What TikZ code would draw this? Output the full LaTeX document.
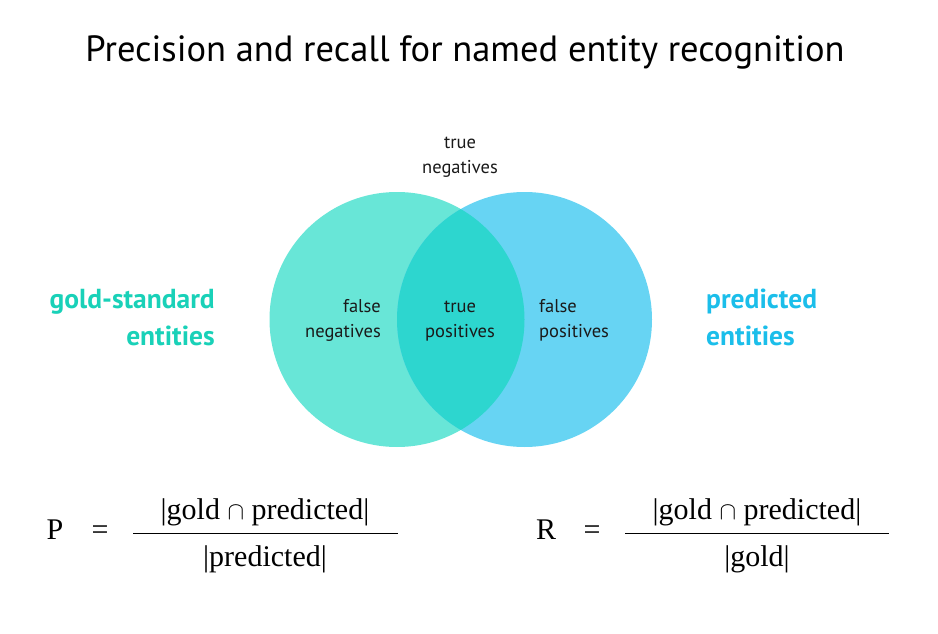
\documentclass[tikz,border=0pt]{standalone}
\usepackage{fontspec}
\setmainfont{Liberation Serif}
\setsansfont{PT Sans}
\usetikzlibrary{positioning}
\definecolor{goldc}{HTML}{68E6D7}
\definecolor{predc}{HTML}{67D4F3}
\definecolor{bothc}{HTML}{2DD6CF}
\definecolor{goldt}{HTML}{19D1B8}
\definecolor{predt}{HTML}{1BBEEA}
\definecolor{labt}{HTML}{1A1A1A}
\tikzset{
  lab/.style={font=\sffamily\fontsize{18.5}{25}\selectfont, text=labt, align=center, inner sep=0pt},
  setlab/.style={font=\sffamily\bfseries\fontsize{27.5}{36.5}\selectfont, inner sep=0pt},
  frm/.style={font=\rmfamily\fontsize{30}{34}\selectfont, inner sep=0pt, anchor=base},
  bar/.style={line width=1pt, black}
}
\begin{document}
\begin{tikzpicture}[x=1pt,y=-1pt]
\useasboundingbox (0,0) rectangle (938,634);
% title
\node[font=\sffamily\fontsize{36.5}{40}\selectfont, anchor=base] (title) at (465,62) {Precision and recall for named entity recognition};
% circles
\coordinate (gc) at (397,319.5);
\coordinate (pc) at (524.5,319.5);
\fill[goldc] (gc) circle (127.5);
\fill[predc] (pc) circle (127.5);
\begin{scope}
  \clip (gc) circle (127.5);
  \fill[bothc] (pc) circle (127.5);
\end{scope}
% labels
\node[lab, anchor=base] (tn) at (460,173) {true\\negatives};
\node[lab, align=right, anchor=base east] (fn) at (381,337) {false\\negatives};
\node[lab, anchor=base] (tp) at (460,337) {true\\positives};
\node[lab, align=left, anchor=base west] (fp) at (539,337) {false\\positives};
\node[setlab, text=goldt, align=right, anchor=base east] (gold) at (215,345) {gold-standard\\entities};
\node[setlab, text=predt, align=left, anchor=base west] (pred) at (706,345) {predicted\\entities};
% precision
\node[frm] (P) at (55,539) {P};
\node[frm] (Peq) at (100,539) {=};
\coordinate (pb1) at (133,533);
\coordinate (pb2) at (398,533);
\draw[bar] (pb1) -- (pb2);
\node[frm] (Pnum) at (265,519) {|gold $\cap$ predicted|};
\node[frm] (Pden) at (265,566) {|predicted|};
% recall
\node[frm] (R) at (546,539) {R};
\node[frm] (Req) at (592,539) {=};
\coordinate (rb1) at (625,533);
\coordinate (rb2) at (889,533);
\draw[bar] (rb1) -- (rb2);
\node[frm] (Rnum) at (757,519) {|gold $\cap$ predicted|};
\node[frm] (Rden) at (757,566) {|gold|};
\end{tikzpicture}
\end{document}
